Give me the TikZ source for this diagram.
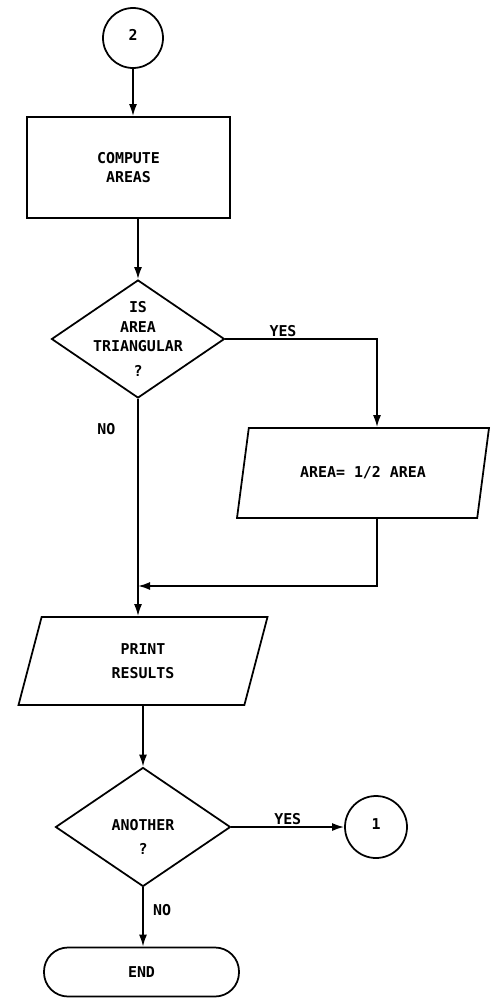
\documentclass[tikz,border=0pt]{standalone}
\usepackage{fontspec}
\setmonofont{DejaVu Sans Mono}
\usepackage{tikz}
\usetikzlibrary{shapes.geometric, arrows.meta, positioning, calc}
\tikzset{
  chart/.style={draw=black, line width=1pt,
    font=\ttfamily\bfseries\fontsize{8.5}{11}\selectfont, align=center},
  block/.style={chart, rectangle, minimum width=4.06cm, minimum height=2.02cm},
  decision/.style={chart, diamond, inner sep=0pt},
  inout/.style={chart, trapezium, trapezium left angle=64,
    trapezium right angle=116, trapezium stretches body},
  connector/.style={chart, circle, inner sep=0pt},
  terminal/.style={chart, rectangle, rounded corners=0.48cm,
    minimum width=3.9cm, minimum height=0.98cm},
  arrow/.style={-{Latex[length=2.4mm,width=1.6mm]}, line width=1pt},
  answer/.style={font=\ttfamily\bfseries\fontsize{8.5}{11}\selectfont, inner sep=1pt}
}

\begin{document}
\begin{tikzpicture}
  \useasboundingbox (0,0) rectangle (9.8,-19.98);

  \node[connector, minimum size=1.2cm] (conTwo) at (2.66,-0.76) {\raisebox{0.12cm}{2}};
  \node[block] (compute) at (2.57,-3.35) {COMPUTE\\AREAS};
  \node[decision, minimum width=3.46cm, minimum height=2.36cm,
    label={[answer, align=center]center:{IS\\AREA\\TRIANGULAR\\[3pt]?}}] (isTri) at (2.76,-6.78) {};
  \node[inout, minimum width=5.04cm, minimum height=1.8cm] (halve) at (7.26,-9.46) {AREA= 1/2 AREA};
  \coordinate (join) at (2.76,-11.72);
  \node[inout, minimum width=4.98cm, minimum height=1.76cm] (print) at (2.86,-13.22) {PRINT\\[3pt]RESULTS};
  \node[decision, minimum width=3.5cm, minimum height=2.38cm,
    label={[answer, align=center, yshift=-0.2cm]center:{ANOTHER\\[3pt]?}}] (another) at (2.86,-16.54) {};
  \node[connector, minimum size=1.24cm] (conOne) at (7.52,-16.54) {\raisebox{0.12cm}{1}};
  \node[terminal] (stop) at (2.83,-19.44) {END};

  \draw[arrow] (conTwo) -- (conTwo |- compute.north);
  \draw[arrow] (compute.south -| isTri) -- (isTri.north);
  \draw[arrow] (isTri.east) -| node[answer, pos=0.19, above] {YES} ([xshift=0.28cm]halve.north);
  \draw[arrow] (isTri.south) -- node[answer, pos=0.14, left=0.4cm] {NO} (isTri.south |- print.north);
  \draw[arrow] ([xshift=0.28cm]halve.south) |- (join);
  \draw[arrow] (print.south) -- (another.north);
  \draw[arrow] (another.east) -- node[answer, midway, above] {YES} (conOne);
  \draw[arrow] (another.south) -- node[answer, pos=0.38, right=0.15cm] {NO} (another.south |- stop.north);
\end{tikzpicture}
\end{document}
